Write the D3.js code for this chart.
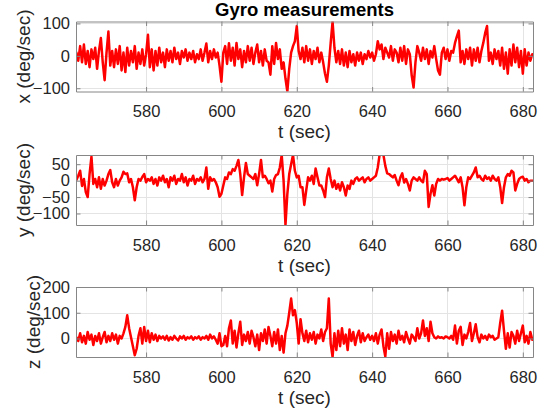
<!DOCTYPE html>
<html>
<head>
<meta charset="utf-8">
<script src="https://cdn.jsdelivr.net/npm/d3@7"></script>
<style>
  html, body { margin: 0; padding: 0; background: #fff; }
  svg { display: block; }
</style>
</head>
<body>
<svg id="gyroChart" width="546" height="411"></svg>
<script>
// amostras a cada 0.5 s a partir de t = 561.5 s
const tInicio = 561.5;
const tPasso = 0.5;
const tLimites = [561.4, 682.7];
const tTicks = [580, 600, 620, 640, 660, 680];

const gyroX = [
  10, -15, 30, -20, 35, -25, 15, -35, 20, -10,
  25, -40, 15, 55, -20, -75, 10, 75, -30, 15,
  -35, 20, -25, 30, -45, 10, -50, 25, -30, 15,
  -20, 30, -40, 10, -25, 20, -30, 5, 65, -35,
  20, -45, 15, -30, 25, -20, 10, -35, 20, -15,
  15, -20, 25, -10, 10, -25, 15, -5, 20, -15,
  10, -10, 15, -20, 5, -10, 20, -15, 10, 38,
  -20, 15, -10, 20, -5, 10, -30, -80, 10, 30,
  -25, 39, -15, 25, -30, 40, -10, 20, -35, 15,
  -20, 30, -15, 25, -25, 10, 35, -20, 15, -30,
  20, -15, -20, -58, 30, -25, 40, -10, 20, -40,
  -20, -70, -110, -40, 10, 30, 45, 92, 15, -10,
  25, -20, 30, -15, 20, -25, 15, -10, 25, -20,
  10, -20, -55, -80, -30, 40, 106, 25, -20, 15,
  -25, 20, -30, 10, -35, 15, -20, 5, -30, 10,
  -15, 10, -25, 5, -10, 15, -5, 10, -15, 5,
  45, 20, 35, -10, 25, 10, -5, 30, -15, 20,
  10, -20, 25, -15, 30, -25, 20, 5, -60, -98,
  -20, 30, 10, -15, 25, -10, 20, -25, 15, -5,
  30, -10, -45, -58, 10, 25, -10, 20, -15, 15,
  10, 40, 60, 78, -20, 15, -25, 20, -10, 25,
  -30, 20, -15, 25, -20, 15, 40, 70, 92, -15,
  10, -25, 20, -10, 15, -30, 25, -40, 10, -55,
  20, -30, 35, -20, 25, -35, 15, -55, 20, -30,
  10, -15, 5
];

const gyroY = [
  2, 15, 30, -16, 5, -35, -50, 20, 73, -10,
  5, -20, 10, -25, 5, -15, 0, 20, 32, -5,
  -20, 5, -15, 0, 10, 27, 20, 22, -5, 5,
  -20, -60, -20, 5, 0, 11, 20, -5, 5, 0,
  10, -10, 5, -15, 10, 0, 15, -5, 5, -20,
  10, 0, 15, -10, 5, 0, 20, -5, 10, -15,
  5, 0, 15, -10, 5, 0, 10, -5, 5, 40,
  -25, 10, 0, 5, -5, -20, -49, -40, -15, 10,
  5, 25, 20, 35, 30, 45, 63, 20, -44, 10,
  54, 20, 15, 10, 5, 20, -14, 20, 63, 10,
  15, 5, -8, 0, -33, 5, 17, 20, 40, 78,
  0, -135, -40, 20, 50, 78, 30, 10, 15, -20,
  -20, -74, -30, 10, 0, 15, -10, 37, 10, -15,
  -15, -30, -50, 10, 37, 5, -20, 0, -25, -10,
  -30, -5, -20, -45, -15, -25, 0, -10, 5, 10,
  0, 5, 10, -5, 5, 10, 0, 5, 10, 15,
  40, 80, 82, 78, 45, 22, 20, 15, 10, 17,
  0, -14, 10, 22, -6, 5, -10, -30, 0, 10,
  5, 0, 10, 0, -5, 30, 20, -80, -40, -14,
  -45, -10, 5, 0, 5, 3, 5, 8, 0, 5,
  10, 15, 5, -5, 10, -20, -75, -20, 10, 5,
  15, 25, 40, 10, 15, 5, 0, 15, 5, 10,
  0, 15, 5, 0, 10, -20, -68, -20, 10, 20,
  15, 30, 25, -30, -10, 5, 10, 12, 0, 5,
  -5, 0, 0
];

const gyroZ = [
  5, -10, 20, -15, 10, -20, 25, -5, 15, -25,
  10, -10, 20, -20, 5, 25, -15, 10, -10, 20,
  -5, 15, -20, 10, 0, 20, 45, 90, 40, 5,
  -30, -65, -40, 10, 40, -20, 45, -10, 30, -15,
  20, -5, 15, -10, 10, 0, 8, -5, 10, -8,
  5, -5, 10, 0, -8, 8, 0, 10, -5, 5,
  0, 8, -5, 5, 0, 8, -5, 5, 0, 10,
  -5, 15, 0, 8, -5, -20, 20, -30, -25, 10,
  -30, 40, 70, -20, 30, -35, 20, 65, -25, 15,
  -10, 25, -20, 30, 5, -30, 15, -45, 20, -10,
  35, -20, 45, 10, -30, 25, -20, 35, -45, 10,
  -55, 20, 50, 100, 155, 90, 110, 60, -20, 75,
  20, -10, 30, -15, 20, -5, 25, -20, 15, 0,
  35, -10, 25, 40, 155, -20, -72, 20, -45, 30,
  -30, 40, -20, 15, -45, 35, -10, 25, -25, 10,
  30, -15, 20, -10, 5, 15, -5, 10, -10, 20,
  -20, 15, 35, -30, -70, 20, -40, 25, -10, 15,
  -20, 30, -5, 10, -15, 25, 0, -20, 15, 5,
  -10, 40, 0, 20, 70, 10, 40, -10, 65, 20,
  5, 0, 8, 3, 5, 0, 8, 5, 0, 10,
  -5, 50, -20, 30, 45, -25, 15, 0, 25, 60,
  -10, 20, 55, 5, -15, 15, 0, 10, -5, 15,
  5, 10, -5, 0, 5, 60, 108, 30, -40, 20,
  -35, 25, 10, -20, 30, -10, 20, 50, -15, 10,
  -20, 25, -5
];

const yTicksX = [-100, 0, 100];
const yTicksY = [-100, -50, 0, 50];
const yTicksZ = [0, 100, 200];

const titulo = 'Gyro measurements';
const rotuloT = 't (sec)';
const rotulosY = ['x (deg/sec)', 'y (deg/sec)', 'z (deg/sec)'];

/**
 * Desenha os três painéis (estilo subplot do MATLAB) das medições do giroscópio.
 */
class GraficoGiroscopio {
    constructor(paineis) {
        this.config = {
            esquerda: 76,
            direita: 533,
            corLinha: '#ff0000',
            larguraLinha: 2.5,
            corEixo: '#868686',
            corGrade: '#e4e4e4',
            corTexto: '#262626',
            fonte: '"Liberation Sans", Arial, Helvetica, sans-serif',
            tamTick: 16.5,
            tamRotulo: 19,
            tamTitulo: 18.5,
            tickLen: 4.5
        };
        this.paineis = paineis;
    }

    desenhar() {
        const c = this.config;
        const svg = d3.select('#gyroChart').style('font-family', c.fonte);
        const defs = svg.append('defs');

        const x = d3.scaleLinear().domain(tLimites).range([c.esquerda, c.direita]);

        svg.append('text')
            .attr('x', (c.esquerda + c.direita) / 2)
            .attr('y', 16)
            .attr('text-anchor', 'middle')
            .attr('font-size', c.tamTitulo)
            .attr('font-weight', 'bold')
            .attr('fill', '#000')
            .text(titulo);

        this.paineis.forEach((p, k) => {
            const y = d3.scaleLinear().domain(p.yLimites).range([p.base, p.topo]);
            const g = svg.append('g').attr('class', 'painel-' + k);

            // grade
            const grade = g.append('g').attr('shape-rendering', 'crispEdges');
            grade.selectAll('.gv').data(tTicks).join('line')
                .attr('class', 'gv')
                .attr('x1', d => Math.round(x(d)) + 0.5).attr('x2', d => Math.round(x(d)) + 0.5)
                .attr('y1', p.topo).attr('y2', p.base)
                .attr('stroke', c.corGrade);
            grade.selectAll('.gh').data(p.yTicks).join('line')
                .attr('class', 'gh')
                .attr('x1', c.esquerda).attr('x2', c.direita)
                .attr('y1', d => Math.round(y(d)) + 0.5).attr('y2', d => Math.round(y(d)) + 0.5)
                .attr('stroke', c.corGrade);

            defs.append('clipPath').attr('id', 'clip-' + k)
                .append('rect')
                .attr('x', c.esquerda).attr('y', p.topo)
                .attr('width', c.direita - c.esquerda).attr('height', p.base - p.topo);

            const linha = d3.line()
                .x((d, i) => x(tInicio + i * tPasso))
                .y(d => y(d));

            g.append('path')
                .datum(p.dados)
                .attr('clip-path', 'url(#clip-' + k + ')')
                .attr('d', linha)
                .attr('fill', 'none')
                .attr('stroke', c.corLinha)
                .attr('stroke-width', c.larguraLinha)
                .attr('stroke-linejoin', 'round')
                .attr('stroke-linecap', 'round');

            // eixos (caixa com ticks para dentro nos quatro lados)
            const eixos = [
                { eixo: d3.axisBottom(x).tickValues(tTicks), t: `translate(0,${p.base})`, rotulos: true },
                { eixo: d3.axisTop(x).tickValues(tTicks), t: `translate(0,${p.topo})`, rotulos: false },
                { eixo: d3.axisLeft(y).tickValues(p.yTicks), t: `translate(${c.esquerda},0)`, rotulos: true },
                { eixo: d3.axisRight(y).tickValues(p.yTicks), t: `translate(${c.direita},0)`, rotulos: false }
            ];
            eixos.forEach((e, j) => {
                const eg = g.append('g').attr('transform', e.t)
                    .call(e.eixo.tickSizeInner(-c.tickLen).tickSizeOuter(0).tickPadding(j === 0 ? 14 : 6));
                eg.select('.domain').attr('stroke', c.corEixo);
                eg.selectAll('.tick line').attr('stroke', c.corEixo);
                if (e.rotulos) {
                    eg.selectAll('.tick text')
                        .attr('fill', c.corTexto)
                        .attr('font-size', c.tamTick)
                        .attr('font-family', c.fonte);
                } else {
                    eg.selectAll('.tick text').remove();
                }
                eg.attr('font-family', null).attr('font-size', null);
                if (j === 2) p.grupoY = eg;
            });

            g.append('text')
                .attr('x', (c.esquerda + c.direita) / 2)
                .attr('y', p.base + 46.5)
                .attr('text-anchor', 'middle')
                .attr('font-size', c.tamRotulo)
                .attr('fill', c.corTexto)
                .text(rotuloT);

            // rótulo vertical posicionado à esquerda dos números do eixo
            let minX = Infinity;
            p.grupoY.selectAll('.tick text').each(function () {
                const b = this.getBBox();
                minX = Math.min(minX, c.esquerda + b.x);
            });
            const cx = minX - 9;
            const cy = (p.topo + p.base) / 2;
            g.append('text')
                .attr('transform', `translate(${cx},${cy}) rotate(-90)`)
                .attr('dy', '0.35em')
                .attr('text-anchor', 'middle')
                .attr('font-size', c.tamRotulo)
                .attr('fill', c.corTexto)
                .text(p.rotulo);
        });
    }
}

const grafico = new GraficoGiroscopio([
    { dados: gyroX, yLimites: [-110, 106], yTicks: yTicksX, rotulo: rotulosY[0], topo: 21.5, base: 91.5 },
    { dados: gyroY, yLimites: [-135, 78], yTicks: yTicksY, rotulo: rotulosY[1], topo: 155, base: 225 },
    { dados: gyroZ, yLimites: [-72, 200], yTicks: yTicksZ, rotulo: rotulosY[2], topo: 287, base: 357 }
]);
grafico.desenhar();
</script>
</body>
</html>
